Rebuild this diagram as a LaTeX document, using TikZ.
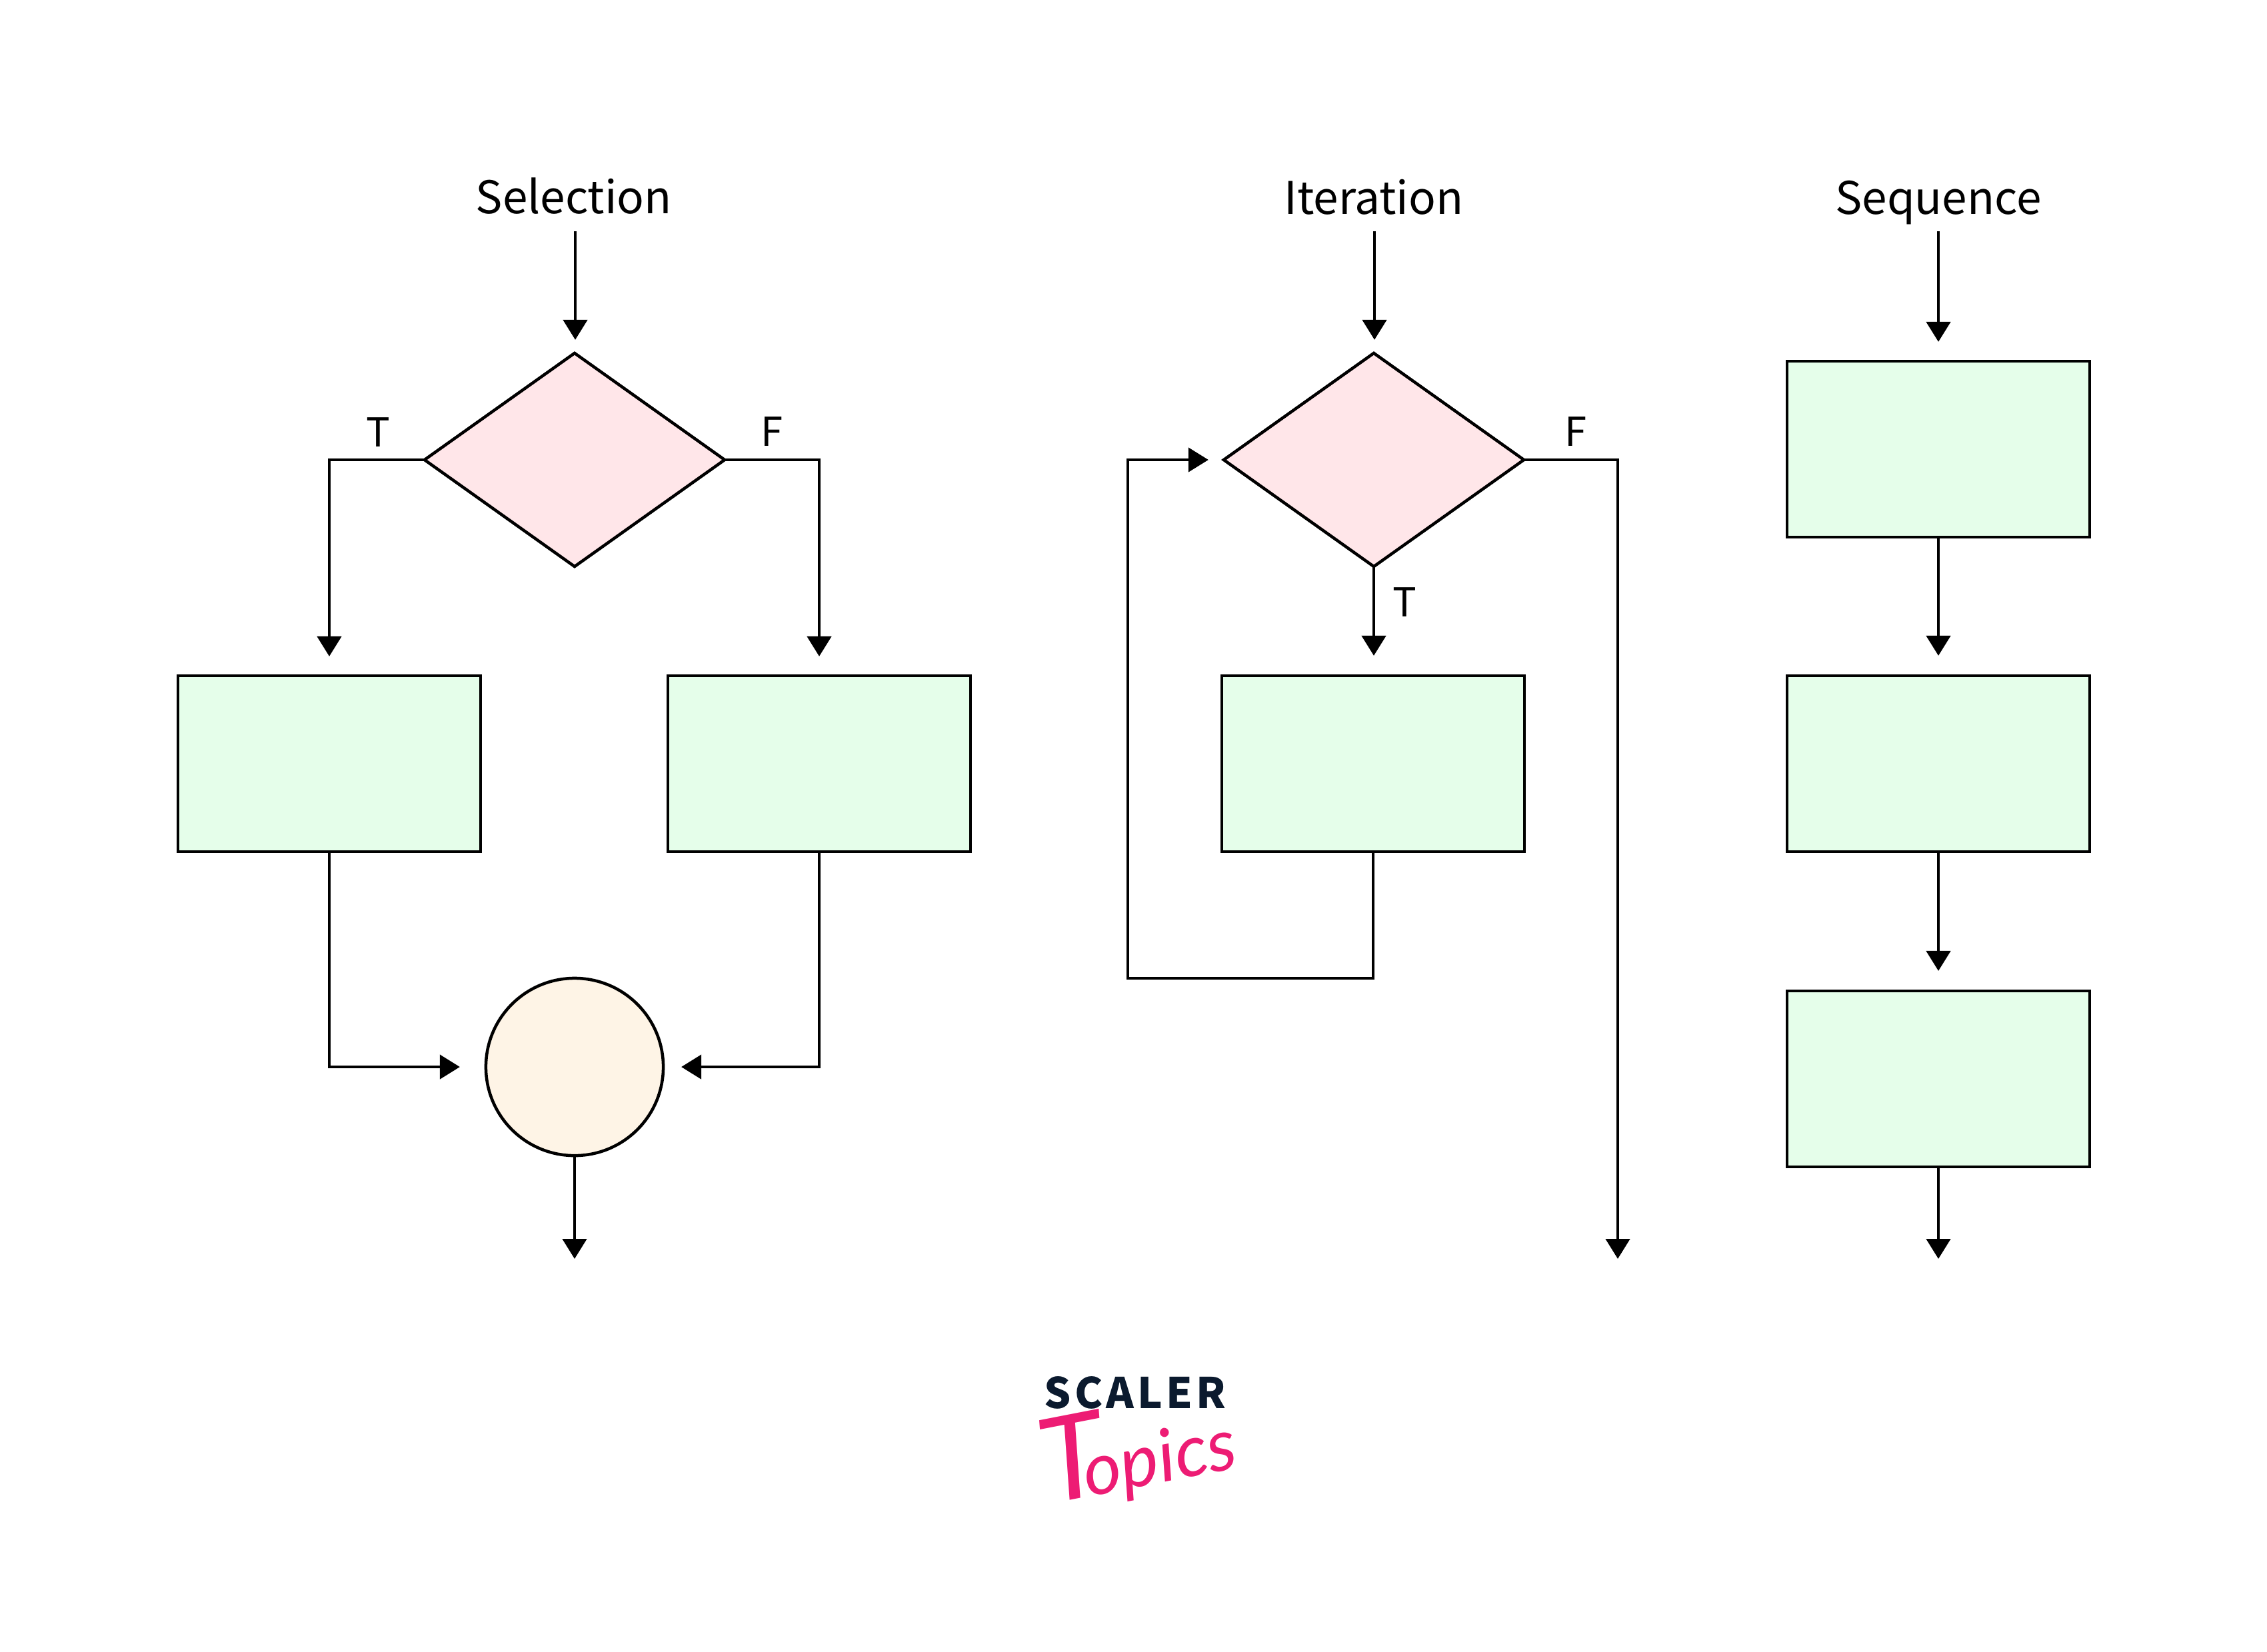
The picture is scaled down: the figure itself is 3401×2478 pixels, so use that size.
\documentclass[tikz,border=0pt]{standalone}
\usepackage{fontspec}
\setmainfont{Noto Sans CJK SC}
\newfontfamily\logofont[LetterSpace=8]{Noto Sans CJK SC Black}
\newfontfamily\logoscript{Lato}
\usetikzlibrary{shapes.geometric,arrows.meta}
\definecolor{boxgreen}{HTML}{E5FEEA}
\definecolor{decpink}{HTML}{FFE6E9}
\definecolor{joincream}{HTML}{FEF4E6}
\definecolor{logonavy}{HTML}{0B1A2E}
\definecolor{logopink}{HTML}{ED1C74}
\tikzset{
  x=0.01cm,y=-0.01cm,
  outlined/.style={draw=black,line width=0.045cm,inner sep=0pt,outer sep=0pt},
  procbox/.style={outlined,rectangle,fill=boxgreen,minimum width=4.54cm,minimum height=2.64cm},
  decbox/.style={outlined,diamond,fill=decpink,aspect=1.41,minimum width=4.5cm,minimum height=3.2cm},
  joinbox/.style={outlined,circle,fill=joincream,minimum size=2.66cm},
  conn/.style={draw=black,line width=0.045cm,-{Triangle[length=0.3cm,width=0.36cm]}},
  title/.style={anchor=base,inner sep=0pt,font=\fontsize{19.2}{23}\selectfont},
  tag/.style={anchor=base,inner sep=0pt,font=\fontsize{17}{21}\selectfont},
}
\begin{document}
\begin{tikzpicture}
\useasboundingbox (0,0) rectangle (3401,2478);
% Selection
\node[title] (selT) at (861,320) {Selection};
\coordinate (selIn) at (863,347);
\node[decbox] (selD) at (862,690) {};
\node[procbox] (selA) at (494,1146) {};
\node[procbox] (selB) at (1229,1146) {};
\node[joinbox] (selC) at (862,1601) {};
\coordinate (selOut) at (862,1889);
\node[tag] (selTt) at (567,670) {T};
\node[tag] (selTf) at (1158,669) {F};
\draw[conn,shorten >=0.2cm] (selIn) -- (selIn |- selD.north);
\draw[conn,shorten >=0.29cm] (selD.west) -| (selA.north);
\draw[conn,shorten >=0.29cm] (selD.east) -| (selB.north);
\draw[conn,shorten >=0.39cm] (selA.south) |- (selC.west);
\draw[conn,shorten >=0.27cm] (selB.south) |- (selC.east);
\draw[conn] (selC.south) -- (selOut);
% Iteration
\node[title] (itT) at (2061,321) {Iteration};
\coordinate (itIn) at (2062,347);
\node[decbox] (itD) at (2061,690) {};
\node[procbox] (itB) at (2060,1146) {};
\coordinate (itLoopA) at (2060,1468);
\coordinate (itLoopB) at (1692,1468);
\coordinate (itOut) at (2427,1889);
\node[tag] (itTt) at (2107,925) {T};
\node[tag] (itTf) at (2364,669) {F};
\draw[conn,shorten >=0.2cm] (itIn) -- (itIn |- itD.north);
\draw[conn,shorten >=0.3cm] (itD.south) -- (itD.south |- itB.north);
\draw[conn,shorten >=0.23cm] (itB.south) -- (itLoopA) -- (itLoopB) |- (itD.west);
\draw[conn] (itD.east) -| (itOut);
% Sequence
\node[title] (seqT) at (2908,321) {Sequence};
\coordinate (seqIn) at (2908,347);
\node[procbox] (seqA) at (2908,674) {};
\node[procbox] (seqB) at (2908,1146) {};
\node[procbox] (seqC) at (2908,1619) {};
\coordinate (seqOut) at (2908,1889);
\draw[conn,shorten >=0.29cm] (seqIn) -- (seqA.north);
\draw[conn,shorten >=0.3cm] (seqA.south) -- (seqB.north);
\draw[conn,shorten >=0.3cm] (seqB.south) -- (seqC.north);
\draw[conn] (seqC.south) -- (seqOut);
% Logo
\node[anchor=base,inner sep=0pt,text=logonavy,font=\logofont\fontsize{18}{20}\selectfont] (logoA) at (1703,2113) {SCALER};
\node[anchor=base west,inner sep=0pt,rotate=11,text=logopink,font=\logoscript\itshape] (logoB) at (1572,2258) {\fontsize{50}{50}\selectfont T\kern-0.2em\fontsize{31}{31}\selectfont opics};
\end{tikzpicture}
\end{document}
